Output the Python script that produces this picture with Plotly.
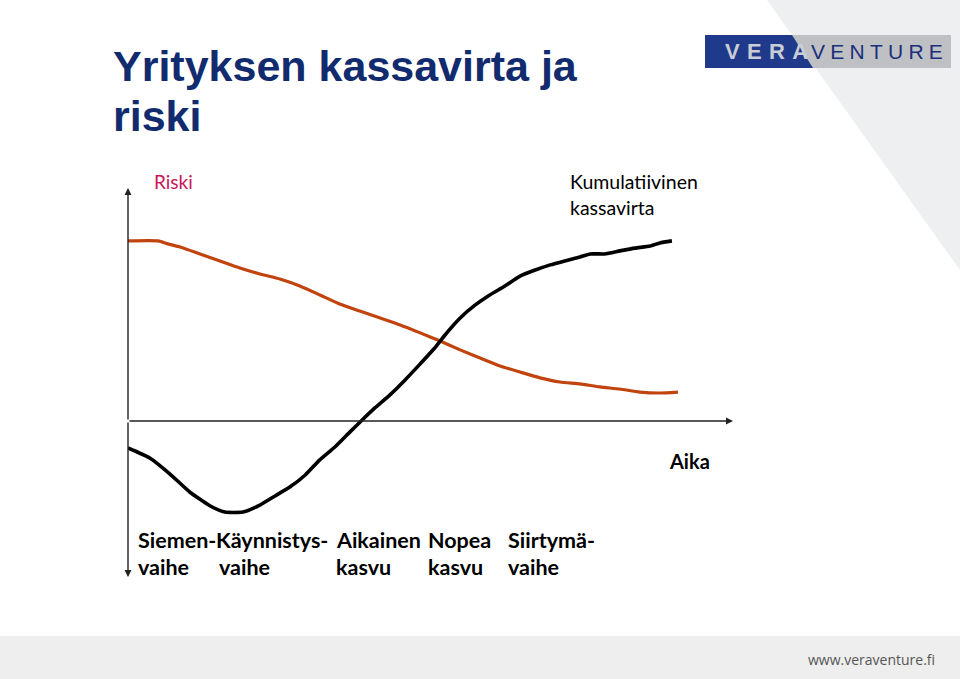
import plotly.graph_objects as go

# ---------------- data ----------------
time_risk = [0, 5.0, 6.6, 8.6, 11.9, 15.2, 18.5, 21.8, 25.1, 28.4, 31.7, 35.0, 38.3, 41.7,
             45.0, 48.3, 51.6, 54.9, 58.2, 61.5, 64.8, 68.1, 71.4, 74.7, 78.0, 81.3, 84.6,
             87.9, 90.9]
risk = [77.3, 77.3, 76.0, 74.7, 71.7, 68.7, 65.7, 63.1, 60.9, 57.9, 54.1, 50.2, 47.2, 44.2,
        41.2, 37.8, 34.3, 30.5, 27.0, 23.6, 21.0, 18.5, 16.7, 15.9, 14.6, 13.7, 12.4,
        12.0, 12.4]

time_cash = [0, 3.6, 6.9, 10.2, 13.6, 16.0, 19.0, 21.8, 24.3, 26.8, 29.3, 31.7, 34.2, 36.7,
             38.7, 40.8, 43.3, 45.8, 48.3, 50.7, 52.4, 54.9, 57.4, 59.8, 62.3, 64.8, 67.3,
             69.8, 72.2, 74.7, 76.4, 78.8, 81.3, 83.8, 86.3, 87.9, 89.9]
cash = [-11.6, -15.9, -22.7, -30.5, -36.5, -39.1, -39.1, -36.1, -32.2, -28.3, -23.2, -16.7,
        -11.2, -4.7, 0.4, 5.6, 11.2, 17.6, 24.5, 31.3, 36.9, 44.2, 49.8, 54.1, 57.9, 62.2,
        64.8, 67.0, 68.7, 70.4, 71.7, 71.7, 73.0, 74.2, 75.1, 76.4, 77.3]

stage_line1 = ["Siemen-", "Käynnistys-", "Aikainen", "Nopea", "Siirtymä-"]
stage_line2 = ["vaihe", "vaihe", "kasvu", "kasvu", "vaihe"]

title_lines = ["Yrityksen kassavirta ja", "riski"]

W, H = 960, 679
def X(px):
    return px / W
def Y(py):
    return 1 - py / H

NAVY = "#112B6E"
ORANGE = "#C1440E"
LATO = "Lato, 'Open Sans', sans-serif"
ARIAL = "'Liberation Sans', Arial, sans-serif"

fig = go.Figure()
fig.add_trace(go.Scatter(x=time_risk, y=risk, mode="lines", name="Riski",
                         line=dict(color=ORANGE, width=3.2, shape="spline", smoothing=0.5),
                         cliponaxis=False, hoverinfo="skip"))
fig.add_trace(go.Scatter(x=time_cash, y=cash, mode="lines", name="Kumulatiivinen kassavirta",
                         line=dict(color="#000000", width=3.6, shape="spline", smoothing=0.5),
                         cliponaxis=False, hoverinfo="skip"))

shapes = []
# light grey diagonal band at top right
shapes.append(dict(type="path", xref="paper", yref="paper", layer="below",
                   path=f"M {X(767)} {Y(0)} L {X(960)} {Y(0)} L {X(960)} {Y(270)} Z",
                   fillcolor="#EEEFF0", line=dict(width=0)))
# footer band
shapes.append(dict(type="rect", xref="paper", yref="paper", layer="below",
                   x0=0, x1=1, y0=0, y1=Y(636), fillcolor="#EEEEEE", line=dict(width=0)))
# logo boxes
shapes.append(dict(type="rect", xref="paper", yref="paper",
                   x0=X(790), x1=X(951), y0=Y(68), y1=Y(35), fillcolor="#BFC0C4",
                   line=dict(width=0)))
shapes.append(dict(type="path", xref="paper", yref="paper",
                   path=f"M {X(705)} {Y(35)} L {X(792)} {Y(35)} L {X(813)} {Y(68)} L {X(705)} {Y(68)} Z",
                   fillcolor="#1F3A8A", line=dict(width=0)))

ann = []
# axes with arrows
ax_style = dict(text="", showarrow=True, arrowhead=2, arrowsize=1, arrowwidth=1.4,
                arrowcolor="#222222", xref="x", yref="y", axref="x", ayref="y", standoff=0)
ann.append(dict(x=0, y=100, ax=0, ay=0, **ax_style))
ann.append(dict(x=0, y=-67, ax=0, ay=0, **ax_style))
ann.append(dict(x=100, y=0, ax=0, ay=0, **ax_style))

def txt(text, px, py, size, color="#000000", family=LATO, xanchor="left", bold=False):
    if bold:
        text = f"<b>{text}</b>"
    ann.append(dict(text=text, x=X(px), y=Y(py), xref="paper", yref="paper",
                    xanchor=xanchor, yanchor="middle", showarrow=False,
                    font=dict(family=family, size=size, color=color)))

# title
txt(title_lines[0], 111, 66, 43, NAVY, ARIAL, bold=True)
txt(title_lines[1], 111, 116, 43, NAVY, ARIAL, bold=True)

# labels
txt("Riski", 152, 182, 19, "#C8185A")
txt("Kumulatiivinen", 568, 182, 19.5)
txt("kassavirta", 568, 207, 19.5)
txt("Aika", 667, 461, 20, bold=True)

stage_x1 = [136, 214, 334, 426, 506]
stage_x2 = [136, 217, 334, 426, 506]
for s, x in zip(stage_line1, stage_x1):
    txt(s, x, 540, 21.5, bold=True)
for s, x in zip(stage_line2, stage_x2):
    txt(s, x, 567, 21.5, bold=True)

# logo text
txt("V\u2004E\u2004R\u2004A", 810, 52, 22, "#C9CDD6", ARIAL, xanchor="right", bold=True)
txt("V\u2005E\u2005N\u2005T\u2005U\u2005R\u2005E", 809, 52, 21, "#1B2F7A", ARIAL)

# footer
txt("www.veraventure.fi", 937, 659, 14, "#555555", "'Open Sans', sans-serif", xanchor="right")

fig.update_layout(
    width=W, height=H, margin=dict(l=0, r=0, t=0, b=0),
    paper_bgcolor="#FFFFFF", plot_bgcolor="rgba(0,0,0,0)",
    showlegend=False, shapes=shapes, annotations=ann,
    xaxis=dict(domain=[X(128), X(733)], range=[0, 100], showgrid=False, zeroline=False,
               showticklabels=False, showline=False, ticks="", fixedrange=True),
    yaxis=dict(domain=[Y(577), Y(188)], range=[-67, 100], showgrid=False, zeroline=False,
               showticklabels=False, showline=False, ticks="", fixedrange=True),
)

fig.write_html("out.html", config={"displayModeBar": False},
               post_script="document.body.style.margin='0';document.body.style.overflow='hidden';")
